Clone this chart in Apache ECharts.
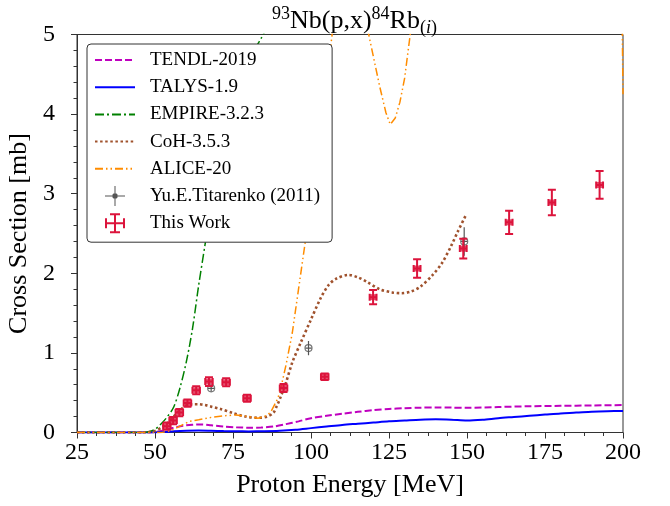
<!DOCTYPE html>
<html><head><meta charset="utf-8">
<script src="https://cdn.jsdelivr.net/npm/echarts@6/dist/echarts.min.js"></script>
<style>html,body{margin:0;padding:0;background:#fff}#c{width:670px;height:506px}</style>
</head><body><div id="c"></div>
<script>
// ---- model curves ----
const tendlE = [25, 45, 50, 53, 56, 59, 62, 65, 68, 72, 76, 80, 84, 88, 92, 96, 100, 105, 110, 115, 120, 125, 130, 135, 140, 145, 150, 160, 170, 180, 190, 200];
const tendlV = [0, 0, 0.005, 0.03, 0.06, 0.085, 0.097, 0.10, 0.09, 0.075, 0.065, 0.06, 0.063, 0.075, 0.105, 0.14, 0.18, 0.21, 0.235, 0.26, 0.28, 0.295, 0.305, 0.312, 0.315, 0.313, 0.31, 0.32, 0.33, 0.335, 0.34, 0.345];

const talysE = [25, 48, 52, 56, 60, 64, 68, 72, 76, 80, 85, 90, 95, 100, 105, 110, 115, 120, 125, 130, 135, 140, 145, 150, 155, 160, 165, 170, 175, 180, 185, 190, 195, 200];
const talysV = [0, 0, 0.005, 0.015, 0.022, 0.025, 0.022, 0.018, 0.015, 0.014, 0.016, 0.022, 0.035, 0.055, 0.075, 0.095, 0.11, 0.125, 0.14, 0.15, 0.16, 0.165, 0.16, 0.15, 0.16, 0.18, 0.195, 0.21, 0.225, 0.24, 0.25, 0.262, 0.268, 0.27];

const empireE = [25, 45, 48, 50, 52, 54, 56, 58, 60, 62, 64, 66, 68, 70, 72, 75, 78, 81, 84, 86, 90];
const empireV = [0, 0, 0.01, 0.04, 0.11, 0.2, 0.32, 0.56, 0.88, 1.3, 1.85, 2.35, 2.85, 3.25, 3.6, 4.05, 4.45, 4.75, 4.95, 5.1, 5.5];

const cohE = [25, 46, 48, 50, 52, 54, 56, 58, 60, 62, 64, 66, 68, 71, 75, 79, 83, 86, 88, 89, 90, 92, 94, 96.6, 100, 103, 105.6, 108, 112, 115, 118, 122, 126, 129, 132, 135, 139, 142, 145, 147, 149.5];
const cohV = [0, 0, 0.005, 0.02, 0.06, 0.12, 0.2, 0.28, 0.34, 0.355, 0.355, 0.345, 0.325, 0.295, 0.245, 0.2, 0.185, 0.2, 0.25, 0.33, 0.42, 0.63, 0.88, 1.12, 1.42, 1.68, 1.85, 1.93, 1.98, 1.95, 1.89, 1.80, 1.76, 1.75, 1.77, 1.83, 1.98, 2.13, 2.35, 2.52, 2.72];

const aliceE = [25, 52, 55, 58, 61, 64, 68, 72, 76, 80, 83, 85, 87, 89, 90, 92, 94, 96, 98, 100, 102, 104, 106, 108, 112, 116, 118.5, 120, 122, 124, 125.4, 127, 128.5, 130, 131.8, 134, 140, 160, 180, 199.5, 200];
const aliceV = [0, 0, 0.02, 0.08, 0.14, 0.16, 0.19, 0.21, 0.22, 0.2, 0.18, 0.2, 0.25, 0.4, 0.5, 0.85, 1.25, 1.8, 2.35, 2.9, 3.5, 4.1, 4.75, 5.4, 6, 5.5, 5.0, 4.72, 4.35, 4.02, 3.87, 3.95, 4.15, 4.45, 5.0, 5.6, 7, 8, 8, 6, 4.25];

// ---- experimental data ----
const titE = [68.0, 99.2, 149.1];
const titV = [0.555, 1.06, 2.40];
const titErr = [0.04, 0.09, 0.18];
const titXErr = [1.0, 1.0, 1.0];

const twE = [53.8, 55.8, 57.8, 60.4, 63.2, 67.3, 72.8, 79.5, 91.2, 104.4, 119.9, 134.0, 148.8, 163.5, 177.2, 192.5];
const twV = [0.08, 0.15, 0.25, 0.37, 0.53, 0.64, 0.63, 0.43, 0.56, 0.70, 1.70, 2.06, 2.31, 2.64, 2.89, 3.11];
const twErr = [0.045, 0.045, 0.045, 0.045, 0.05, 0.055, 0.05, 0.045, 0.05, 0.04, 0.09, 0.115, 0.125, 0.145, 0.16, 0.175];
const twXErr = [1.2, 1.2, 1.2, 1.2, 1.2, 1.2, 1.2, 1.2, 1.2, 1.2, 1.1, 1.1, 1.1, 1.1, 1.1, 1.1];

const xTickStep = 25;
const yTickStep = 1;

const serif = '"Liberation Serif", "Times New Roman", serif';
const pairs = (E, V) => E.map((e, i) => [e, V[i]]);

function lineSeries(name, E, V, color, width, type, smooth) {
  return {
    name, type: 'line', data: pairs(E, V), symbol: 'none', smooth: smooth,
    lineStyle: { color, width, type, cap: 'butt' }, itemStyle: { color },
    clip: true, z: 2, animation: false
  };
}

function errSeries(name, E, V, EY, EX, color, lw, capPx, hCapPx, z) {
  return {
    name, type: 'custom', z: z, clip: true, animation: false,
    itemStyle: { color },
    data: E.map((e, i) => [e, V[i], EY[i], EX[i]]),
    encode: { x: 0, y: 1 },
    renderItem: (params, api) => {
      const x = api.value(0), y = api.value(1), ey = api.value(2), ex = api.value(3);
      const c = api.coord([x, y]);
      const t = api.coord([x, y + ey]);
      const b = api.coord([x, y - ey]);
      const l = api.coord([x - ex, y]);
      const r = api.coord([x + ex, y]);
      const st = { stroke: color, lineWidth: lw };
      const ch = [
        { type: 'line', shape: { x1: c[0], y1: t[1], x2: c[0], y2: b[1] }, style: st },
        { type: 'line', shape: { x1: l[0], y1: c[1], x2: r[0], y2: c[1] }, style: st }
      ];
      if (capPx) {
        ch.push({ type: 'line', shape: { x1: c[0] - capPx, y1: t[1], x2: c[0] + capPx, y2: t[1] }, style: st });
        ch.push({ type: 'line', shape: { x1: c[0] - capPx, y1: b[1], x2: c[0] + capPx, y2: b[1] }, style: st });
      }
      if (hCapPx) {
        ch.push({ type: 'line', shape: { x1: l[0], y1: c[1] - hCapPx, x2: l[0], y2: c[1] + hCapPx }, style: st });
        ch.push({ type: 'line', shape: { x1: r[0], y1: c[1] - hCapPx, x2: r[0], y2: c[1] + hCapPx }, style: st });
      }
      return { type: 'group', children: ch };
    }
  };
}

const crimson = '#dc143c';
const gray = '#555555';

const iconTW = 'path://M0,9h20v2h-20z M9,0h2v20h-2z M0,5h2v10h-2z M18,5h2v10h-2z M5,0h10v2h-10z M5,18h10v2h-10z';
const iconTit = 'path://M0,9.5h20v1h-20z M9.5,0h1v20h-1z M8.5,7.5h3l1,1v3l-1,1h-3l-1,-1v-3z';

const axisColor = '#333';
const hideSym = { opacity: 0 };

const option = {
  animation: false,
  backgroundColor: '#fff',
  title: {
    left: 267, top: 0,
    text: '{sup|93}{m|Nb(p,x)}{sup|84}{m|Rb}{sub|(}{subi|i}{sub|)}',
    textStyle: {
      fontWeight: 'normal',
      rich: {
        m: { fontFamily: serif, fontSize: 26, fontWeight: 'normal', lineHeight: 32, color: '#000', verticalAlign: 'middle' },
        sup: { fontFamily: serif, fontSize: 18, fontWeight: 'normal', lineHeight: 18, color: '#000', verticalAlign: 'top' },
        sub: { fontFamily: serif, fontSize: 18, fontWeight: 'normal', lineHeight: 18, color: '#000', verticalAlign: 'bottom' },
        subi: { fontFamily: serif, fontSize: 18, fontWeight: 'normal', lineHeight: 18, color: '#000', verticalAlign: 'bottom', fontStyle: 'italic' }
      }
    }
  },
  grid: { left: 77, right: 47, top: 34.5, bottom: 73.5, show: true, borderColor: axisColor, borderWidth: 1, backgroundColor: 'transparent', outerBoundsMode: 'none' },
  legend: {
    orient: 'vertical', left: 87, top: 44,
    padding: [6, 12, 9, 7],
    itemWidth: 40, itemHeight: 20, itemGap: 7.2,
    backgroundColor: '#fff', borderColor: '#333', borderWidth: 1, borderRadius: 4,
    textStyle: { fontFamily: serif, fontSize: 19, color: '#000', lineHeight: 20, padding: [0, 0, 0, 10] },
    data: [
      { name: 'TENDL-2019', itemStyle: hideSym }, { name: 'TALYS-1.9', itemStyle: hideSym },
      { name: 'EMPIRE-3.2.3', itemStyle: hideSym }, { name: 'CoH-3.5.3', itemStyle: hideSym },
      { name: 'ALICE-20', itemStyle: hideSym },
      { name: 'Yu.E.Titarenko (2011)', icon: iconTit, itemStyle: { color: gray, borderWidth: 0, opacity: 1 } },
      { name: 'This Work', icon: iconTW, itemStyle: { color: crimson, borderWidth: 0, opacity: 1 } }
    ],
    selectedMode: false, z: 10
  },
  xAxis: {
    type: 'value', min: 25, max: 200, interval: xTickStep,
    axisLine: { show: true, onZero: false, lineStyle: { color: axisColor, width: 1 } },
    axisTick: { show: true, inside: false, length: 6, lineStyle: { color: axisColor } },
    minorTick: { show: true, splitNumber: 4, length: 3.5, lineStyle: { color: axisColor } },
    splitLine: { show: false }, minorSplitLine: { show: false },
    axisLabel: { fontFamily: serif, fontSize: 24, color: '#000', margin: 8 },
    name: 'Proton Energy [MeV]', nameLocation: 'middle', nameGap: 40,
    nameTextStyle: { fontFamily: serif, fontSize: 26, color: '#000' }
  },
  yAxis: {
    type: 'value', min: 0, max: 5, interval: yTickStep,
    axisLine: { show: true, onZero: false, lineStyle: { color: axisColor, width: 1 } },
    axisTick: { show: true, inside: false, length: 6, lineStyle: { color: axisColor } },
    minorTick: { show: true, splitNumber: 5, length: 3.5, lineStyle: { color: axisColor } },
    splitLine: { show: false }, minorSplitLine: { show: false },
    axisLabel: { fontFamily: serif, fontSize: 24, color: '#000', margin: 22 },
    name: 'Cross Section [mb]', nameLocation: 'middle', nameGap: 42, nameRotate: 90,
    nameTextStyle: { fontFamily: serif, fontSize: 26, color: '#000' }
  },
  series: [
    lineSeries('TENDL-2019', tendlE, tendlV, '#bf00bf', 2, [7, 3], 0.3),
    lineSeries('TALYS-1.9', talysE, talysV, '#0000ff', 2, 'solid', 0.3),
    lineSeries('EMPIRE-3.2.3', empireE, empireV, '#008000', 1.5, [9, 3, 2, 3], 0.3),
    lineSeries('CoH-3.5.3', cohE, cohV, '#a0522d', 2.6, [2.5, 2.6], 0.3),
    lineSeries('ALICE-20', aliceE, aliceV, '#ff8c00', 1.5, [8, 3, 1.5, 3, 1.5, 3], false),
    {
      name: 'Yu.E.Titarenko (2011)', type: 'scatter', z: 4, animation: false,
      data: pairs(titE, titV), symbol: 'circle', symbolSize: 7,
      itemStyle: { color: 'rgba(0,0,0,0)', borderColor: gray, borderWidth: 1.2 }
    },
    errSeries('Yu.E.Titarenko (2011)', titE, titV, titErr, titXErr, gray, 1.2, 0, 0, 5),
    errSeries('This Work', twE, twV, twErr, twXErr, crimson, 2, 4, 3.5, 6),
    {
      name: 'This Work', type: 'scatter', z: 7, animation: false,
      data: pairs(twE, twV), symbol: 'rect', symbolSize: 6,
      itemStyle: { color: crimson, opacity: 0.75 }
    }
  ]
};

const chart = echarts.init(document.getElementById('c'), null, { renderer: 'canvas' });
chart.setOption(option);
</script>
</body></html>
